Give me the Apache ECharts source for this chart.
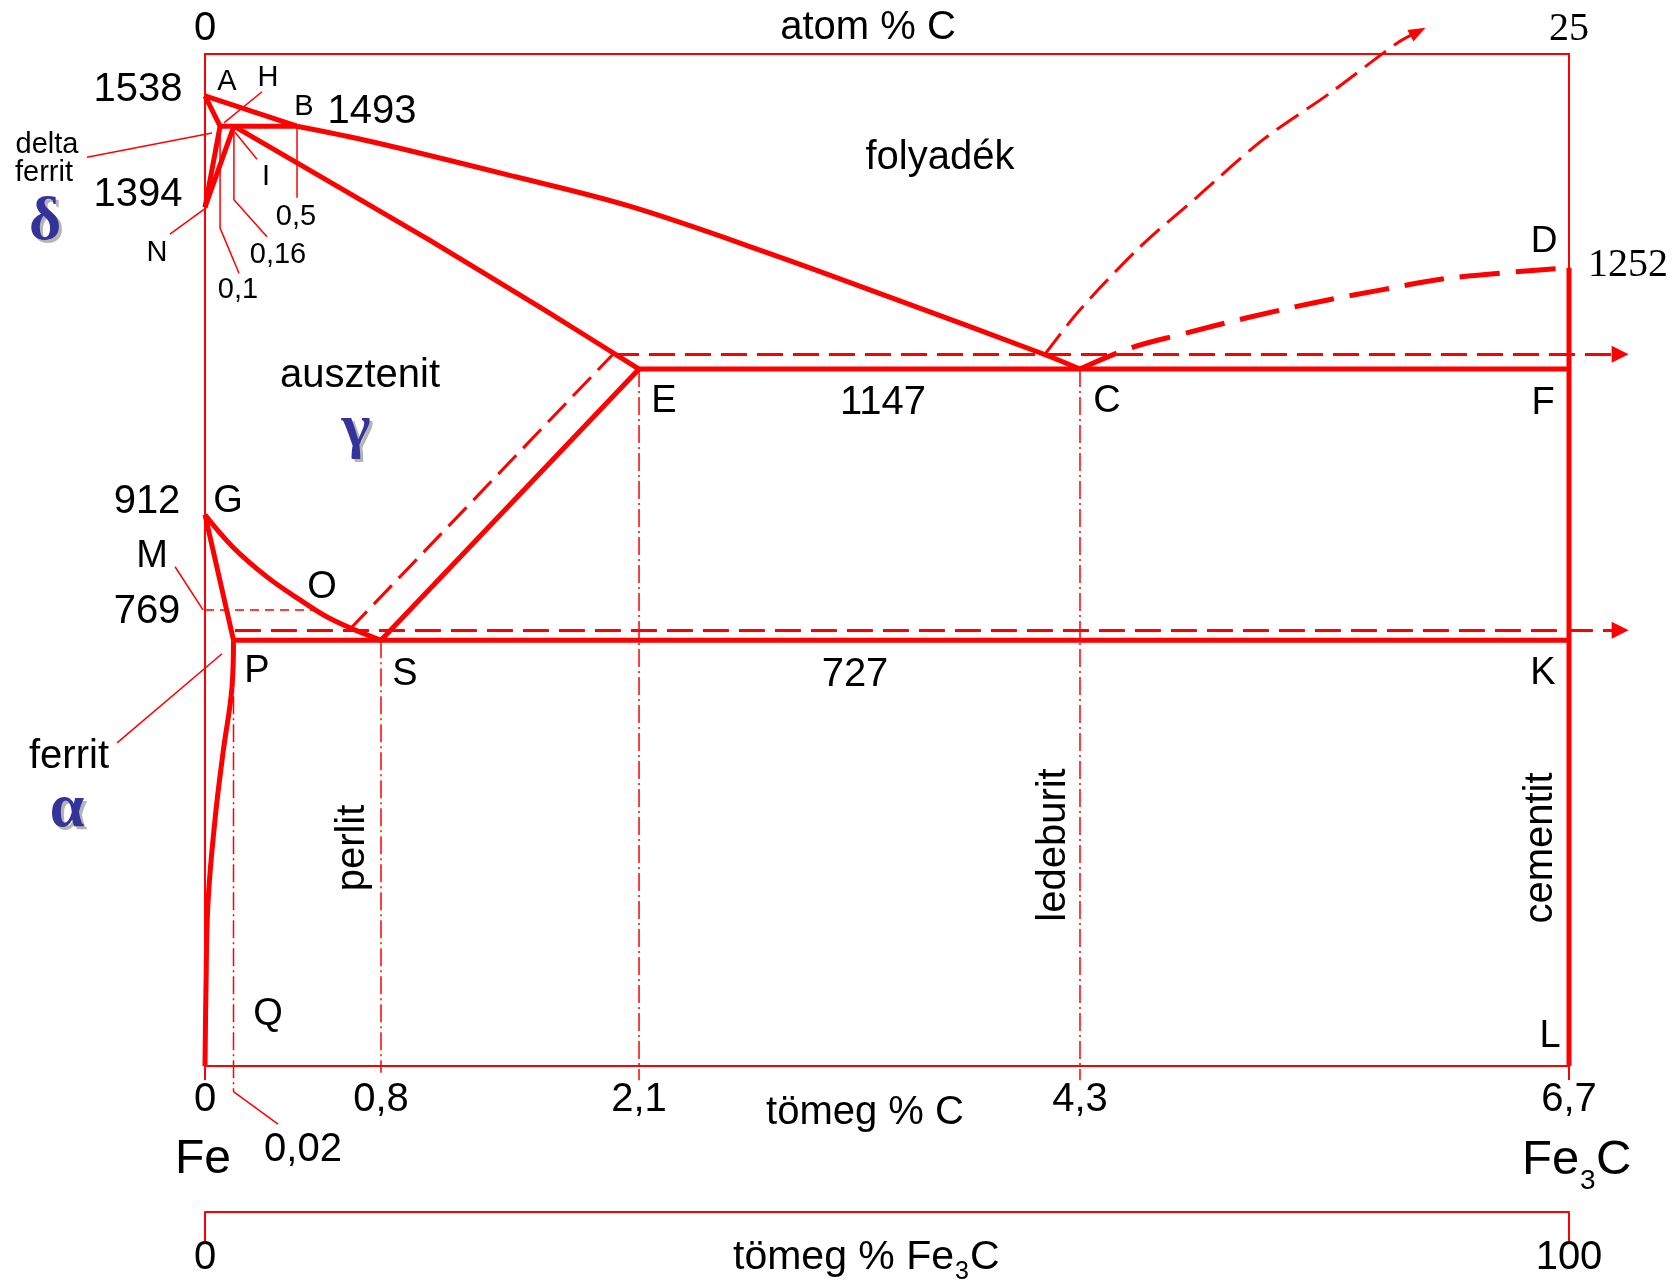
<!DOCTYPE html>
<html>
<head>
<meta charset="utf-8">
<script src="https://cdn.jsdelivr.net/npm/echarts@6/dist/echarts.min.js"></script>
<style>
  html, body { margin: 0; padding: 0; background: #fff; }
  #chart { width: 1677px; height: 1281px; }
</style>
</head>
<body>
<div id="chart"></div>
<script>
// points of the diagram as drawn, [tömeg % C, °C]
const A = [0, 1538];
const H = [0.074, 1493];
const J = [0.142, 1493];
const B = [0.452, 1493];
const N = [0, 1373];
const E = [2.132, 1133];
const C = [4.298, 1133];
const F = [6.7, 1133];
const D = [6.7, 1283];
const L = [6.7, 100];
const G = [0, 917];
const P = [0.14, 731];
const S = [0.8645, 731];
const K = [6.7, 731];
const Q = [0, 100];

const liquidusBC = [B, [0.820, 1470], [1.526, 1418], [2.090, 1374], [2.795, 1302], [3.360, 1240], [4.121, 1155], C];
const solidusJE = [J, [1.103, 1324], [1.665, 1221], E];
const liquidusCD = [C, [4.544, 1164], [4.789, 1184], [5.118, 1209], [5.443, 1231], [5.772, 1250], [6.115, 1268], D];
const curveGS = [G, [0.1375, 869], [0.3045, 825], [0.4666, 791], [0.6287, 761], S];
const curvePQ = [P, [0.1326, 662], [0.0884, 564], [0.0491, 465], [0.0147, 342], [0.0049, 217], Q];

// stable (graphite) system, dashed
const graphiteEutectic = [[2.004, 1155], [6.951, 1155]];
const graphiteEutectoid = [[0.147, 746], [6.951, 746]];
const graphiteES = [[0.707, 746], [2.004, 1155]];
const graphiteCD = [[4.126, 1155], [4.298, 1221], [4.593, 1314], [4.873, 1388], [5.197, 1473], [5.526, 1542], [5.855, 1616], [5.958, 1633]];
const curie = [[0, 776], [0.526, 776]];

// leader lines to the small labels
const leaders = [
  [[0.0933, 1498], [0.280, 1544]],          // H
  [[-0.580, 1447], [0.0344, 1483]],         // delta ferrit
  [[-0.172, 1333], [0.0098, 1373]],         // N
  [H, [H[0], 1342], [0.167, 1275]],         // 0,1
  [J, [J[0], 1384], [0.3045, 1329]],        // 0,16
  [[0.1474, 1484], [0.2554, 1444]],         // I
  [B, [B[0], 1387]],                        // 0,5
  [[-0.432, 579], [0.0835, 711]],           // ferrit
  [[-0.147, 840], [-0.0098, 776]],          // M
  [[P[0], 62], [0.3586, 14]]                // 0,02
];

const wtTicks = [0, S[0], E[0], C[0], 6.7];
const wtLabels = ['0', '0,8', '2,1', '4,3', '6,7'];
const atTicks = [0, 25];
const atLabels = ['0', '25'];
const fe3cTicks = [0, 100];
const fe3cLabels = ['0', '100'];

const RED = '#ff0000';
const SANS = '"Liberation Sans", Arial, sans-serif';
const SERIF = '"Liberation Serif", "Times New Roman", serif';

function pick(ticks, labels) {
  return function (v) {
    let best = 0;
    ticks.forEach(function (t, i) { if (Math.abs(t - v) < Math.abs(ticks[best] - v)) best = i; });
    return labels[best];
  };
}

function ln(data, width, type, z, smooth) {
  return {
    type: 'line', data: data, symbol: 'none', showSymbol: false, clip: false, silent: true,
    smooth: smooth || false,
    lineStyle: { color: RED, width: width, type: type || 'solid', cap: 'butt' },
    z: z || 3
  };
}

// 'lines' series are not clipped to the grid, used for marks running past the frame
function seg(list, width, type, arrow) {
  return {
    type: 'lines', coordinateSystem: 'cartesian2d', polyline: !arrow, clip: false, silent: true,
    data: list.map(function (c) { return { coords: c }; }),
    symbol: arrow ? ['none', 'triangle'] : 'none',
    symbolSize: arrow ? [13, 17] : 0,
    lineStyle: { color: RED, width: width, type: type || 'solid', cap: 'butt', opacity: 1 },
    itemStyle: { color: RED, opacity: 1 },
    z: 2
  };
}

// line whose last point carries an arrow head
function arrowLn(data, width, type, rot, smooth) {
  const pts = data.slice(0, -1).concat([{
    value: data[data.length - 1], symbol: 'triangle', symbolSize: [13, 17], symbolRotate: rot
  }]);
  const s = ln(pts, width, type, 2, smooth);
  s.symbol = 'none';
  s.showSymbol = true;
  s.itemStyle = { color: RED };
  return s;
}

const dashed = [26, 10];
const dashDot = [18, 4, 2, 4];

const series = [
  ln([A, B], 5, 'solid', 5),
  ln(liquidusBC, 5, 'solid', 5, 0.35),
  ln([A, H], 5, 'solid', 5),
  ln([H, N], 5, 'solid', 5),
  ln([J, N], 5, 'solid', 5),
  ln([H, B], 5, 'solid', 5),
  ln(solidusJE, 5, 'solid', 5, 0.2),
  ln([E, F], 5, 'solid', 5),
  ln([D, L], 5, 'solid', 5),
  ln(liquidusCD, 5, [40, 16], 5, 0.35),
  ln(curveGS, 5, 'solid', 5, 0.4),
  ln([G, P], 5, 'solid', 5),
  ln(curvePQ, 5, 'solid', 5, 0.4),
  ln([P, K], 5, 'solid', 5),
  ln([S, E], 5, 'solid', 5),
  seg([graphiteEutectic, graphiteEutectoid], 3, dashed, true),
  ln(graphiteES, 3, dashed, 2),
  arrowLn(graphiteCD, 3, dashed, -62, 0.3),
  ln(curie, 1.5, [9, 6], 2),
  ln([P, [P[0], 62]], 1.5, dashDot, 2),
  ln([S, [S[0], 90]], 1.5, dashDot, 2),
  ln([E, [E[0], 79]], 1.5, dashDot, 2),
  ln([C, [C[0], 79]], 1.5, dashDot, 2),
  seg(leaders, 1.5, 'solid', false)
];

// text placed on the picture, [text, x, y, size]
const notes = [
  ['1538', 138, 90, 40], ['A', 227, 82, 29], ['H', 268, 78, 29], ['B', 304, 107, 29], ['1493', 372, 112, 40],
  ['delta', 47, 145, 29], ['ferrit', 44, 173, 29], ['1394', 138, 195, 40], ['I', 266, 177, 29],
  ['0,5', 296, 217, 29], ['N', 157, 253, 29], ['0,16', 278, 255, 29], ['0,1', 238, 290, 29],
  ['folyadék', 940, 158, 40], ['D', 1544, 242, 37],
  ['ausztenit', 360, 376, 40], ['E', 664, 402, 38], ['1147', 883, 403, 40], ['C', 1107, 402, 38], ['F', 1543, 404, 38],
  ['912', 147, 502, 40], ['G', 228, 502, 38], ['M', 152, 557, 38], ['O', 322, 588, 38], ['769', 147, 612, 40],
  ['P', 257, 672, 38], ['S', 405, 675, 38], ['727', 855, 675, 40], ['K', 1543, 674, 38],
  ['ferrit', 69, 757, 40], ['Q', 268, 1015, 38], ['L', 1550, 1037, 38], ['0,02', 303, 1150, 40],
  ['Fe', 203, 1160, 48], ['atom % C', 868, 28, 40], ['tömeg % C', 865, 1113, 40]
];
const vertNotes = [['perlit', 353, 848], ['ledeburit', 1054, 845], ['cementit', 1541, 848]];
const greek = [['δ', 45, 223], ['γ', 356, 430], ['α', 67, 810]];

function txt(t, x, y, font, color, rot, align) {
  return {
    type: 'text', x: x, y: y, rotation: rot || 0, silent: true, z: 10,
    style: { text: t, font: font, fill: color || '#000', align: align || 'center', verticalAlign: 'middle' }
  };
}

const graphic = [];
notes.forEach(function (n) { graphic.push(txt(n[0], n[1], n[2], n[3] + 'px ' + SANS)); });
vertNotes.forEach(function (n) { graphic.push(txt(n[0], n[1], n[2], '40px ' + SANS, '#000', Math.PI / 2)); });
greek.forEach(function (g) {
  graphic.push(txt(g[0], g[1] + 3, g[2] + 3, 'bold 62px ' + SERIF, '#b4b4b4'));
  graphic.push(txt(g[0], g[1], g[2], 'bold 62px ' + SERIF, '#333399'));
});
graphic.push(txt('1252', 1628, 265, '40px ' + SERIF));
// Fe3C with subscript
graphic.push(txt('Fe', 1522, 1160, '49px ' + SANS, '#000', 0, 'left'));
graphic.push(txt('3', 1580, 1181, '28px ' + SANS, '#000', 0, 'left'));
graphic.push(txt('C', 1596, 1160, '49px ' + SANS, '#000', 0, 'left'));
graphic.push(txt('tömeg % Fe', 733, 1258, '41px ' + SANS, '#000', 0, 'left'));
graphic.push(txt('3', 955, 1272, '25px ' + SANS, '#000', 0, 'left'));
graphic.push(txt('C', 970, 1258, '41px ' + SANS, '#000', 0, 'left'));

const chart = echarts.init(document.getElementById('chart'));
chart.setOption({
  animation: false,
  backgroundColor: '#fff',
  grid: { left: 205, top: 54, width: 1364, height: 1012, show: true, borderColor: RED, borderWidth: 2 },
  xAxis: [
    {
      type: 'value', position: 'bottom', min: 0, max: 6.7,
      axisLine: { show: false }, splitLine: { show: false },
      axisTick: { show: true, customValues: [0, 6.7], length: 14, lineStyle: { color: RED, width: 2 } },
      axisLabel: { customValues: wtTicks, formatter: pick(wtTicks, wtLabels), margin: 14, color: '#000', fontSize: 40, fontFamily: SANS }
    },
    {
      type: 'value', position: 'top', min: 0, max: 25,
      axisLine: { show: false }, splitLine: { show: false }, axisTick: { show: false },
      axisLabel: {
        customValues: atTicks, margin: 5, color: '#000', fontSize: 40, fontFamily: SANS,
        formatter: function (v) { const s = pick(atTicks, atLabels)(v); return s === '25' ? '{s|25}' : s; },
        rich: { s: { fontFamily: SERIF, fontSize: 40, color: '#000' } }
      }
    },
    {
      type: 'value', position: 'bottom', offset: 146, min: 0, max: 100,
      axisLine: { show: true, lineStyle: { color: RED, width: 2 } }, splitLine: { show: false },
      axisTick: { show: true, customValues: fe3cTicks, length: 30, lineStyle: { color: RED, width: 2 } },
      axisLabel: { customValues: fe3cTicks, formatter: pick(fe3cTicks, fe3cLabels), margin: 26, color: '#000', fontSize: 40, fontFamily: SANS }
    }
  ],
  yAxis: { type: 'value', min: 100, max: 1600, show: false, splitLine: { show: false } },
  series: series,
  graphic: graphic
});
</script>
</body>
</html>
